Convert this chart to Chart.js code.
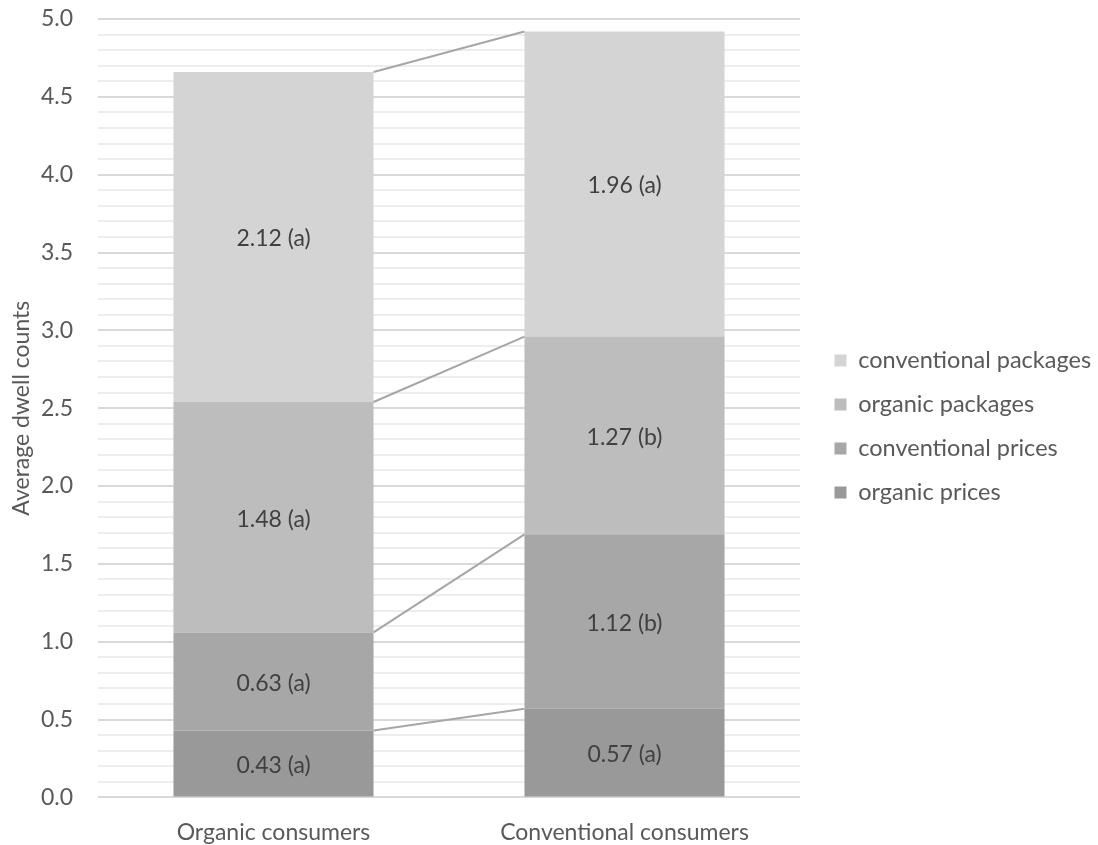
<!DOCTYPE html>
<html>
<head>
<meta charset="utf-8">
<script src="https://cdn.jsdelivr.net/npm/chart.js@4"></script>
<style>
  html, body { margin: 0; padding: 0; background: #fff; }
  #wrap { width: 1098px; height: 845px; }
</style>
</head>
<body>
<div id="wrap"><canvas id="chart"></canvas></div>
<script>
// ====== data ======
const categories = ["Organic consumers", "Conventional consumers"];
const organicPrices = [0.43, 0.57];
const conventionalPrices = [0.63, 1.12];
const organicPackages = [1.48, 1.27];
const conventionalPackages = [2.12, 1.96];
const organicPricesSig = ["a", "a"];
const conventionalPricesSig = ["a", "b"];
const organicPackagesSig = ["a", "b"];
const conventionalPackagesSig = ["a", "a"];

const FONT = "Lato";
const TXT = "#595959";

// series lines between stack tops + value labels
const stackExtras = {
    id: "stackExtras",
    afterDatasetsDraw(chart) {
        const ctx = chart.ctx;
        // connectors
        ctx.save();
        ctx.strokeStyle = "#a6a6a6";
        ctx.lineWidth = 2;
        for (let d = 0; d < chart.data.datasets.length; d++) {
            const meta = chart.getDatasetMeta(d);
            const a = meta.data[0], b = meta.data[1];
            if (!a || !b) continue;
            ctx.beginPath();
            ctx.moveTo(a.x + a.width / 2, a.y);
            ctx.lineTo(b.x - b.width / 2, b.y);
            ctx.stroke();
        }
        // labels
        ctx.fillStyle = "#404040";
        ctx.font = "23px " + FONT;
        ctx.textAlign = "center";
        ctx.textBaseline = "middle";
        chart.data.datasets.forEach((ds, d) => {
            chart.getDatasetMeta(d).data.forEach((bar, i) => {
                const mid = (bar.y + bar.base) / 2 + 2;
                ctx.fillText(ds.data[i].toFixed(2) + " (" + ds.sig[i] + ")", bar.x, mid);
            });
        });
        ctx.restore();
    }
};

// wider legend box (the layout caps it at a quarter of the width) + nudge
const legendRoom = {
    id: "legendRoom",
    afterInit(chart) {
        const lg = chart.legend;
        if (!lg) return;
        const fit = lg.fit.bind(lg);
        lg.fit = function () { fit(); this.width = 298; };
        const draw = lg.draw.bind(lg);
        lg.draw = function (area) {
            chart.ctx.save();
            chart.ctx.translate(14, -7);
            draw(area);
            chart.ctx.restore();
        };
    }
};

const ctx = document.getElementById("chart").getContext("2d");
new Chart(ctx, {
    type: "bar",
    data: {
        labels: categories,
        datasets: [
            { label: "organic prices", data: organicPrices, sig: organicPricesSig, backgroundColor: "#999999" },
            { label: "conventional prices", data: conventionalPrices, sig: conventionalPricesSig, backgroundColor: "#a7a7a7" },
            { label: "organic packages", data: organicPackages, sig: organicPackagesSig, backgroundColor: "#bdbdbd" },
            { label: "conventional packages", data: conventionalPackages, sig: conventionalPackagesSig, backgroundColor: "#d4d4d4" }
        ]
    },
    options: {
        responsive: true,
        maintainAspectRatio: false,
        animation: false,
        layout: { padding: { top: 0, right: 0, bottom: -22, left: 0 } },
        datasets: { bar: { barPercentage: 1, categoryPercentage: 0.57 } },
        plugins: {
            legend: {
                position: "right",
                reverse: true,
                align: "center",
                labels: {
                    color: TXT,
                    font: { family: FONT, size: 23.5 },
                    boxWidth: 12,
                    boxHeight: 12,
                    padding: 20.5
                }
            },
            tooltip: { enabled: false }
        },
        scales: {
            x: {
                stacked: true,
                grid: { display: false, drawTicks: false },
                border: { display: false },
                ticks: { color: TXT, font: { family: FONT, size: 23 }, padding: 21 }
            },
            y: {
                stacked: true,
                min: 0,
                max: 5,
                afterFit: (scale) => {
                    scale.width = 98;
                    scale.paddingTop = 19;
                    scale.paddingBottom = 14;
                },
                border: { display: false },
                grid: {
                    color: (c) => Math.round(c.tick.value * 10) % 5 === 0 ? "#d9d9d9" : "#ededed",
                    lineWidth: 2,
                    drawTicks: false
                },
                ticks: {
                    stepSize: 0.1,
                    autoSkip: false,
                    color: TXT,
                    font: { family: FONT, size: 23 },
                    padding: 25,
                    callback: (v) => Math.round(v * 10) % 5 === 0 ? v.toFixed(1) : ""
                },
                title: {
                    display: true,
                    text: "Average dwell counts",
                    color: TXT,
                    font: { family: FONT, size: 23 },
                    padding: { top: 8, bottom: 0 }
                }
            }
        }
    },
    plugins: [stackExtras, legendRoom]
});
</script>
</body>
</html>
